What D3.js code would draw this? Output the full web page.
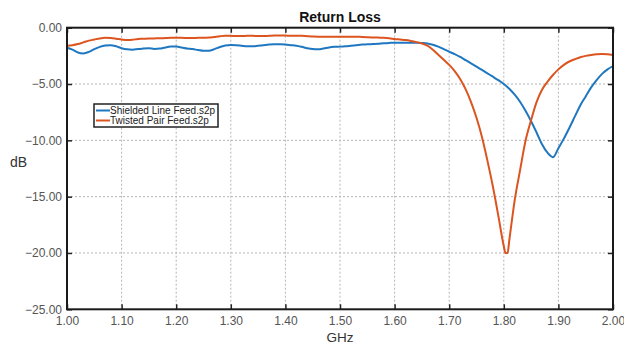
<!DOCTYPE html>
<html>
<head>
<meta charset="utf-8">
<script src="https://cdn.jsdelivr.net/npm/d3@7"></script>
<style>
  html, body { margin: 0; padding: 0; background: #fff; }
  svg { display: block; font-family: "Liberation Sans", Arial, sans-serif; }
</style>
</head>
<body>
<svg id="chart" width="624" height="343"></svg>
<script>
// Return loss of two feed types, S11 in dB vs frequency in GHz
const shieldedFreq = [1.00,1.01,1.02,1.03,1.04,1.05,1.06,1.07,1.08,1.09,1.10,1.11,1.12,1.13,1.14,1.15,1.16,1.17,1.18,1.19,
  1.20,1.21,1.22,1.23,1.24,1.25,1.26,1.27,1.28,1.29,1.30,1.31,1.32,1.33,1.34,1.35,1.36,1.37,1.38,1.39,
  1.40,1.41,1.42,1.43,1.44,1.45,1.46,1.47,1.48,1.49,1.50,1.51,1.52,1.53,1.54,1.55,1.56,1.57,1.58,1.59,
  1.60,1.61,1.62,1.63,1.64,1.65,1.66,1.67,1.68,1.69,1.70,1.71,1.72,1.73,1.74,1.75,1.76,1.77,1.78,1.79,
  1.80,1.81,1.82,1.83,1.84,1.85,1.86,1.87,1.88,1.89,1.90,1.91,1.92,1.93,1.94,1.95,1.96,1.97,1.98,1.99,2.00];
const shieldedDb = [-1.78,-1.95,-2.20,-2.28,-2.15,-1.90,-1.70,-1.58,-1.55,-1.65,-1.82,-1.92,-1.95,-1.90,-1.85,-1.83,-1.88,-1.85,-1.75,-1.68,
  -1.68,-1.75,-1.85,-1.90,-1.98,-2.05,-2.05,-1.90,-1.72,-1.58,-1.54,-1.55,-1.60,-1.65,-1.65,-1.60,-1.55,-1.50,-1.48,-1.48,
  -1.50,-1.55,-1.60,-1.70,-1.82,-1.90,-1.92,-1.85,-1.75,-1.70,-1.68,-1.65,-1.60,-1.55,-1.50,-1.48,-1.45,-1.42,-1.38,-1.35,
  -1.33,-1.33,-1.33,-1.33,-1.34,-1.36,-1.40,-1.52,-1.68,-1.90,-2.13,-2.35,-2.60,-2.88,-3.16,-3.45,-3.75,-4.05,-4.35,-4.66,
  -5.00,-5.42,-5.95,-6.60,-7.40,-8.30,-9.30,-10.35,-11.10,-11.50,-10.70,-9.85,-8.90,-7.90,-6.90,-6.10,-5.30,-4.65,-4.10,-3.70,-3.40];

const twistedFreq = [1.00,1.01,1.02,1.03,1.04,1.05,1.06,1.07,1.08,1.09,1.10,1.11,1.12,1.13,1.14,1.15,1.16,1.17,1.18,1.19,
  1.20,1.21,1.22,1.23,1.24,1.25,1.26,1.27,1.28,1.29,1.30,1.31,1.32,1.33,1.34,1.35,1.36,1.37,1.38,1.39,
  1.40,1.41,1.42,1.43,1.44,1.45,1.46,1.47,1.48,1.49,1.50,1.51,1.52,1.53,1.54,1.55,1.56,1.57,1.58,1.59,
  1.60,1.61,1.62,1.63,1.64,1.65,1.66,1.67,1.68,1.69,1.70,1.71,1.72,1.73,1.74,1.75,1.76,1.77,1.78,1.79,
  1.80,1.803,1.807,1.81,1.82,1.83,1.84,1.85,1.86,1.87,1.88,1.89,1.90,1.91,1.92,1.93,1.94,1.95,1.96,1.97,1.98,1.99,2.00];
const twistedDb = [-1.60,-1.55,-1.45,-1.30,-1.15,-1.05,-0.95,-0.90,-0.92,-0.98,-1.05,-1.10,-1.07,-1.00,-0.98,-0.96,-0.95,-0.94,-0.92,-0.90,
  -0.90,-0.90,-0.92,-0.92,-0.90,-0.90,-0.88,-0.82,-0.76,-0.72,-0.72,-0.74,-0.74,-0.72,-0.72,-0.74,-0.74,-0.72,-0.70,-0.70,
  -0.70,-0.72,-0.72,-0.72,-0.75,-0.78,-0.80,-0.80,-0.80,-0.80,-0.80,-0.80,-0.80,-0.80,-0.82,-0.84,-0.86,-0.88,-0.90,-0.94,
  -1.00,-1.05,-1.10,-1.18,-1.28,-1.40,-1.60,-1.95,-2.40,-2.85,-3.30,-3.85,-4.55,-5.45,-6.60,-8.00,-9.70,-11.80,-14.10,-16.70,
  -19.40,-20.00,-20.00,-18.90,-15.30,-12.60,-10.00,-8.20,-6.60,-5.50,-4.80,-4.20,-3.70,-3.30,-3.00,-2.80,-2.62,-2.50,-2.42,-2.36,-2.34,-2.36,-2.42];

const seriesNames = ["Shielded Line Feed.s2p", "Twisted Pair Feed.s2p"];
const seriesColors = ["#1f77c0", "#dc5420"];

const xTicks = [1.00,1.10,1.20,1.30,1.40,1.50,1.60,1.70,1.80,1.90,2.00];
const yTicks = [0,-5,-10,-15,-20,-25];

const chartTitle = "Return Loss";
const xTitle = "GHz";
const yTitle = "dB";

const svg = d3.select("#chart");
const plotLeft = 67, plotRight = 613, plotTop = 27.7, plotBottom = 309.3;

const x = d3.scaleLinear().domain([1.0, 2.0]).range([plotLeft, plotRight]);
const y = d3.scaleLinear().domain([-25, 0]).range([plotBottom, plotTop]);

// dotted grid
const grid = svg.append("g");
grid.selectAll("line.gx").data(xTicks.slice(1, -1)).join("line").attr("class", "gx")
  .attr("x1", d => x(d)).attr("x2", d => x(d)).attr("y1", plotTop).attr("y2", plotBottom)
  .attr("stroke", "#b4b4b4").attr("stroke-width", 1).attr("stroke-dasharray", "2,2");
grid.selectAll("line.gy").data(yTicks.slice(1, -1)).join("line").attr("class", "gy")
  .attr("x1", plotLeft).attr("x2", plotRight).attr("y1", d => y(d)).attr("y2", d => y(d))
  .attr("stroke", "#b4b4b4").attr("stroke-width", 1).attr("stroke-dasharray", "2,2");

// axes with inward ticks on all four sides
const fmt = d3.format(".2f");
const axisStyle = g => {
  g.select(".domain").remove();
  g.selectAll(".tick line").attr("stroke", "#222").attr("stroke-width", 1.5);
  g.selectAll(".tick text").attr("fill", "#555").attr("font-size", 12);
};
svg.append("g").attr("transform", `translate(0,${plotBottom})`)
  .call(d3.axisBottom(x).tickValues(xTicks).tickFormat(fmt).tickSizeInner(-5).tickSizeOuter(0).tickPadding(7.5))
  .call(axisStyle);
svg.append("g").attr("transform", `translate(0,${plotTop})`)
  .call(d3.axisTop(x).tickValues(xTicks).tickFormat("").tickSizeInner(-5).tickSizeOuter(0))
  .call(axisStyle);
svg.append("g").attr("transform", `translate(${plotLeft},0)`)
  .call(d3.axisLeft(y).tickValues(yTicks).tickFormat(fmt).tickSizeInner(-5).tickSizeOuter(0).tickPadding(5))
  .call(axisStyle);
svg.append("g").attr("transform", `translate(${plotRight},0)`)
  .call(d3.axisRight(y).tickValues(yTicks).tickFormat("").tickSizeInner(-5).tickSizeOuter(0))
  .call(axisStyle);

// curves
const line = d3.line().x(d => x(d[0])).y(d => y(d[1])).curve(d3.curveMonotoneX);
const series = [
  d3.zip(shieldedFreq, shieldedDb),
  d3.zip(twistedFreq, twistedDb)
];
svg.append("g").selectAll("path").data(series).join("path")
  .attr("d", line).attr("fill", "none")
  .attr("stroke", (d, i) => seriesColors[i]).attr("stroke-width", 2)
  .attr("stroke-linejoin", "round");

// plot frame
svg.append("rect").attr("x", plotLeft).attr("y", plotTop)
  .attr("width", plotRight - plotLeft).attr("height", plotBottom - plotTop)
  .attr("fill", "none").attr("stroke", "#1a1a1a").attr("stroke-width", 2);

// titles
svg.append("text").attr("x", 340).attr("y", 22).attr("text-anchor", "middle")
  .attr("font-size", 14).attr("font-weight", "bold").attr("fill", "#111").text(chartTitle);
svg.append("text").attr("x", 340).attr("y", 341.5).attr("text-anchor", "middle")
  .attr("font-size", 13.5).attr("fill", "#333").text(xTitle);
svg.append("text").attr("x", 10).attr("y", 167)
  .attr("font-size", 14).attr("fill", "#333").text(yTitle);

// legend
const legend = svg.append("g").attr("transform", "translate(94,104)");
legend.append("rect").attr("width", 124).attr("height", 23)
  .attr("fill", "#fff").attr("stroke", "#222").attr("stroke-width", 1.5);
seriesNames.forEach((name, i) => {
  const row = legend.append("g").attr("transform", `translate(0,${6.5 + i * 10})`);
  row.append("line").attr("x1", 2).attr("x2", 16).attr("y1", 0).attr("y2", 0)
    .attr("stroke", seriesColors[i]).attr("stroke-width", 2);
  row.append("text").attr("x", 16).attr("y", 3.8).attr("font-size", 10)
    .attr("fill", "#222").text(name);
});
</script>
</body>
</html>
